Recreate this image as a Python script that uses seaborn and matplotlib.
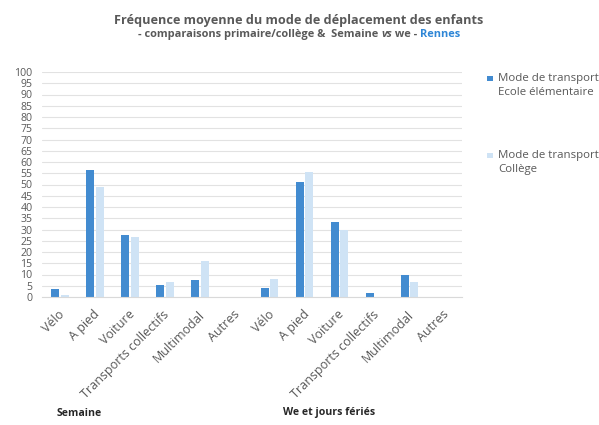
import matplotlib
matplotlib.use("Agg")
import matplotlib.pyplot as plt
from matplotlib.patches import Rectangle
from matplotlib.transforms import ScaledTranslation
import seaborn as sns
import pandas as pd

# ---- data ----
modes = ["Vélo", "A pied", "Voiture", "Transports collectifs", "Multimodal", "Autres"]
periods = ["Semaine", "We et jours fériés"]
ecole_semaine = [3.7, 56.4, 27.4, 5.2, 7.7, 0]
college_semaine = [0.9, 49, 26.8, 6.8, 16, 0]
ecole_we = [3.9, 51.2, 33.5, 2, 9.8, 0]
college_we = [7.9, 55.7, 30, 0, 6.7, 0]
series = ["Mode de transport\nEcole élémentaire", "Mode de transport\nCollège"]
yticks = list(range(0, 101, 5))
title = "Fréquence moyenne du mode de déplacement des enfants"
subtitle_parts = ["- comparaisons primaire/collège &  Semaine ", "vs", " we - ", "Rennes"]

rows = []
for p, e_vals, c_vals in [(periods[0], ecole_semaine, college_semaine),
                          (periods[1], ecole_we, college_we)]:
    for m, e, c in zip(modes, e_vals, c_vals):
        key = f"{p}|{m}"
        rows.append({"cat": key, "serie": series[0], "val": e})
        rows.append({"cat": key, "serie": series[1], "val": c})
df = pd.DataFrame(rows)
order = [f"{p}|{m}" for p in periods for m in modes]

sns.set_theme(style="white")
plt.rcParams['font.family'] = ['Open Sans', 'DejaVu Sans']

W, H = 599, 425
fig = plt.figure(figsize=(W / 100, H / 100), dpi=100)
renderer = fig.canvas.get_renderer()


def fit_size(txt, target_px, **kw):
    t = fig.text(0, 0, txt, fontsize=10, **kw)
    w = t.get_window_extent(renderer).width
    t.remove()
    return 10 * target_px / w


def fx(px):
    return px / W


def fy(py):
    return 1 - py / H


ax = fig.add_axes([fx(42.5), fy(297), fx(462) - fx(42.5), fy(72) - fy(297)])

dark = "#428bd0"
light = "#cfe3f5"
grey = "#595959"
sns.barplot(data=df, x="cat", y="val", hue="serie", order=order, hue_order=series,
            palette=[dark, light], width=0.543, gap=0.16, ax=ax, saturation=1,
            legend=False, linewidth=0)

tick_fs = fit_size("Transports collectifs", 117)
ax.set_ylim(0, 100)
ax.set_xlim(-0.5, len(order) - 0.5)
ax.set_yticks(yticks)
ax.set_yticklabels([str(v) for v in yticks], fontsize=7.6, color=grey)
ax.yaxis.grid(True, color="#e2e2e2", linewidth=0.8)
ax.set_axisbelow(True)
ax.set_xticks(range(len(order)))
ax.set_xticklabels([o.split("|")[1] for o in order], rotation=45, ha="right",
                   rotation_mode="anchor", fontsize=tick_fs, color=grey)
ax.tick_params(axis="y", length=0, pad=7.2)
ax.tick_params(axis="x", length=0, pad=8.0)
off = ScaledTranslation(-2 / 100, 0, fig.dpi_scale_trans)
for lab in ax.get_xticklabels():
    lab.set_transform(lab.get_transform() + off)
ax.set_xlabel("")
ax.set_ylabel("")
for s in ["top", "right", "left"]:
    ax.spines[s].set_visible(False)
ax.spines["bottom"].set_color("#d9d9d9")
ax.spines["bottom"].set_linewidth(0.8)

# legend (drawn manually to keep the square on the first text line)
leg_fs = fit_size("Mode de transport", 100)
for col, lab, y1, y2 in [(dark, series[0], 78.5, 92.5), (light, series[1], 155.5, 169)]:
    fig.add_artist(Rectangle((fx(487), fy(y1 + 2.8)), fx(5.6), fy(0) - fy(5.6),
                             transform=fig.transFigure, facecolor=col, edgecolor="none"))
    l1, l2 = lab.split("\n")
    fig.text(fx(498), fy(y1), l1, fontsize=leg_fs, color=grey, ha="left", va="center")
    fig.text(fx(498), fy(y2), l2, fontsize=leg_fs, color=grey, ha="left", va="center")

# group labels
grp_fs = fit_size("Semaine", 45, fontweight="bold")
fig.text(fx(79), fy(414), periods[0], fontsize=grp_fs, fontweight="bold",
         color="#262626", ha="center", va="center")
fig.text(fx(329), fy(413), periods[1], fontsize=grp_fs, fontweight="bold",
         color="#262626", ha="center", va="center")

# titles
t_fs = fit_size(title, 367, fontweight="bold")
fig.text(fx(298.5), fy(20.7), title, fontsize=t_fs, fontweight="bold", color=grey,
         ha="center", va="center")

st_fs = fit_size("".join(subtitle_parts), 322, fontweight="bold")
styles = [dict(color=grey), dict(color=grey, fontstyle="italic"), dict(color=grey),
          dict(color="#2e86d6")]
x = fx(138)
for part, st in zip(subtitle_parts, styles):
    t = fig.text(x, fy(34.3), part, fontsize=st_fs, fontweight="bold", ha="left",
                 va="center", **st)
    x = t.get_window_extent(renderer).x1 / fig.bbox.width

fig.savefig("out.png", dpi=100)
